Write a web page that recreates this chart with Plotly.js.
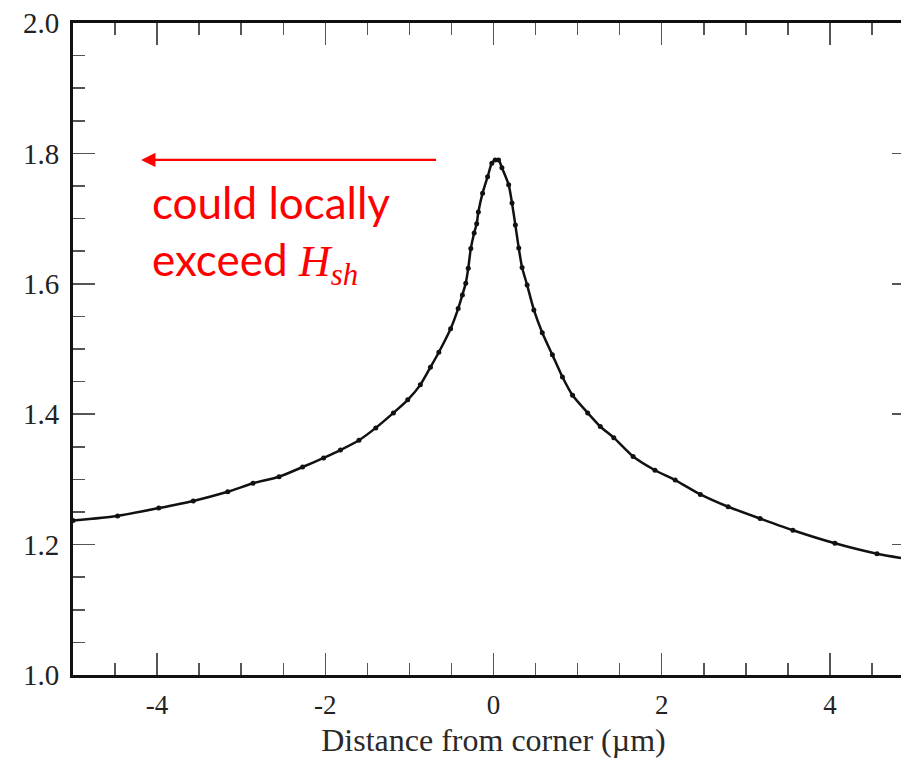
<!DOCTYPE html>
<html>
<head>
<meta charset="utf-8">
<script src="https://cdn.plot.ly/plotly-3.0.1.min.js"></script>
<style>
  html, body { margin: 0; padding: 0; overflow: hidden; background: #ffffff; }
  #chart { width: 930px; height: 764px; }
</style>
</head>
<body>
<div id="chart"></div>
<script>
// Data
const distance = [-5.0, -4.47, -3.98, -3.57, -3.16, -2.86, -2.55, -2.27, -2.02, -1.82, -1.60, -1.40, -1.19, -1.02, -0.87, -0.75, -0.65, -0.51, -0.42, -0.37, -0.33, -0.30, -0.27, -0.23, -0.20, -0.18, -0.13, -0.07, -0.02, 0.02, 0.06, 0.10, 0.18, 0.22, 0.26, 0.30, 0.34, 0.40, 0.48, 0.58, 0.70, 0.82, 0.94, 1.12, 1.27, 1.43, 1.66, 1.92, 2.16, 2.46, 2.79, 3.17, 3.56, 4.06, 4.56, 5.0];
const fieldRatio = [1.237, 1.244, 1.256, 1.267, 1.281, 1.294, 1.304, 1.319, 1.333, 1.345, 1.360, 1.379, 1.402, 1.422, 1.445, 1.472, 1.495, 1.531, 1.562, 1.583, 1.601, 1.624, 1.654, 1.678, 1.692, 1.710, 1.739, 1.764, 1.785, 1.790, 1.790, 1.778, 1.752, 1.724, 1.690, 1.655, 1.625, 1.598, 1.560, 1.525, 1.491, 1.457, 1.429, 1.402, 1.381, 1.364, 1.335, 1.314, 1.299, 1.277, 1.258, 1.240, 1.222, 1.202, 1.186, 1.176];

const xTickVals = [-4, -2, 0, 2, 4];
const xTickText = ['-4', '-2', '0', '2', '4'];
const yTickVals = [1.0, 1.2, 1.4, 1.6, 1.8, 2.0];
const yTickText = ['1.0', '1.2', '1.4', '1.6', '1.8', '2.0'];

const xTitle = 'Distance from corner (\u00b5m)';
const noteText = 'could locally<br>exceed <span style="font-family:\'Liberation Serif\'"><i>H</i><sub><i>sh</i></sub></span>';
const arrowTail = [-0.665, 1.79];
const arrowHead = [-4.19, 1.79];

const trace = {
  x: distance,
  y: fieldRatio,
  type: 'scatter',
  mode: 'lines+markers',
  line: { color: '#111111', width: 2.5, shape: 'spline', smoothing: 0.6 },
  marker: { color: '#111111', size: 5 },
  hoverinfo: 'skip',
  showlegend: false
};

const axisCommon = {
  showline: true,
  linecolor: '#111111',
  linewidth: 3,
  mirror: 'allticks',
  ticks: 'inside',
  ticklen: 22,
  tickwidth: 1.5,
  tickcolor: '#555555',
  showgrid: false,
  zeroline: false,
  tickfont: { family: 'Liberation Serif, serif', size: 29, color: '#222222' },
  tickmode: 'array'
};

const layout = {
  width: 930,
  height: 764,
  margin: { l: 73, r: 16, t: 23, b: 89 },
  paper_bgcolor: '#ffffff',
  plot_bgcolor: '#ffffff',
  xaxis: Object.assign({}, axisCommon, {
    range: [-5, 5],
    tickvals: xTickVals,
    ticktext: xTickText,
    ticklabelstandoff: 4,
    tickfont: { family: 'Liberation Serif, serif', size: 27, color: '#222222' },
    minor: { dtick: 0.5, ticks: 'inside', ticklen: 12, tickwidth: 1.5, tickcolor: '#555555', showgrid: false },
    title: { text: xTitle, font: { family: 'Liberation Serif, serif', size: 32, color: '#2a2a2a' }, standoff: 10 }
  }),
  yaxis: Object.assign({}, axisCommon, {
    range: [1.0, 2.0],
    tickvals: yTickVals,
    ticktext: yTickText,
    ticklabelstandoff: 5,
    minor: { dtick: 0.05, ticks: 'inside', ticklen: 12, tickwidth: 1.5, tickcolor: '#555555', showgrid: false }
  }),
  annotations: [
    {
      x: arrowHead[0], y: arrowHead[1], ax: arrowTail[0], ay: arrowTail[1],
      xref: 'x', yref: 'y', axref: 'x', ayref: 'y',
      text: '', showarrow: true, arrowhead: 2, arrowsize: 1.3, arrowwidth: 2.2, arrowcolor: '#ff0000'
    },
    {
      x: -4.08, y: 1.768, xref: 'x', yref: 'y', xanchor: 'left', yanchor: 'top',
      text: noteText, showarrow: false, align: 'left',
      font: { family: 'Lato, Open Sans, sans-serif', size: 44, color: '#ff0000' }
    }
  ]
};

Plotly.newPlot('chart', [trace], layout, { displayModeBar: false, staticPlot: true });
</script>
</body>
</html>
